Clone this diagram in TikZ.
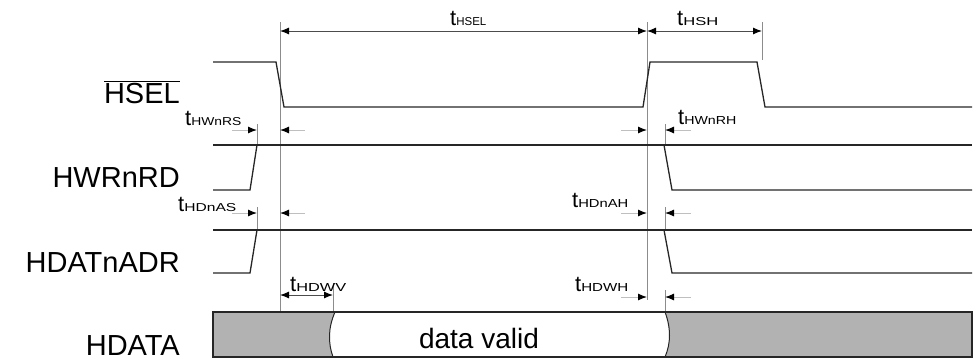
\documentclass[tikz,border=0pt]{standalone}
\usepackage{fontspec}
\usepackage{graphicx}
\setmainfont{Liberation Sans}
\usetikzlibrary{arrows.meta}
\definecolor{fillgray}{HTML}{B2B2B2}
\newcommand\tlab[2]{{\fontsize{22}{22}\selectfont t}\resizebox{#1pt}{8pt}{\fontsize{12}{12}\selectfont #2}}
\begin{document}
\begin{tikzpicture}[x=1pt,y=-1pt,
  sig/.style={line width=1.3pt, black!85},
  vref/.style={line width=1pt, black!45},
  dimline/.style={line width=1pt, black!70, {Latex[length=9pt,width=7pt,color=black]}-{Latex[length=9pt,width=7pt,color=black]}},
  tipin/.style={line width=1pt, black!25, -{Latex[length=9pt,width=7pt,color=black]}},
  siglabel/.style={anchor=base east, font=\fontsize{29}{29}\selectfont, inner sep=0pt},
  tlabel/.style={anchor=base west, inner sep=0pt},
]
\useasboundingbox (0,0) rectangle (977,360);

% reference coordinates
\coordinate (v1t) at (280,22);  \coordinate (v1b) at (280,312);
\coordinate (v2t) at (647,22);  \coordinate (v2b) at (647,300);
\coordinate (v3t) at (762,22);  \coordinate (v3b) at (762,60);
\coordinate (v6t) at (333,283); \coordinate (v6b) at (333,312);

% vertical reference lines
\draw[vref] (v1t) -- (v1b);
\draw[vref] (v2t) -- (v2b);
\draw[vref] (v3t) -- (v3b);
\draw[vref] (v6t) -- (v6b);
\draw[vref] (257,124) -- (257,145);
\draw[vref] (257,207) -- (257,230);
\draw[vref] (665,124) -- (665,145);
\draw[vref] (665,207) -- (665,230);
\draw[vref] (665,290) -- (665,312);

% top dimension arrows
\coordinate (a1) at (280,31); \coordinate (a2) at (647,31); \coordinate (a3) at (762,31);
\draw[dimline] (a1) -- (a2);
\draw[dimline] (a2) -- (a3);
\node[tlabel] (lhsel) at (450,25) {\tlab{30}{HSEL}};
\node[tlabel] (lhsh) at (677,25) {\tlab{35}{HSH}};

% signal names
\node[siglabel] (nhsel) at (180,103) {$\overline{\mbox{HSEL}}$};
\node[siglabel] (nhwr) at (180,187) {HWRnRD};
\node[siglabel] (nhdat) at (180,272) {HDATnADR};
\node[siglabel] (nhdata) at (180,355) {HDATA};

% HSEL
\draw[sig] (213,62) -- (276,62) -- (284,107) -- (643,107) -- (650,62) -- (757,62) -- (765,107) -- (972,107);

% HWRnRD
\draw[sig] (213,145) -- (972,145);
\draw[sig] (213,190) -- (250,190) -- (257,145);
\draw[sig] (664,145) -- (672,190) -- (972,190);

% HDATnADR
\draw[sig] (213,230) -- (972,230);
\draw[sig] (213,273) -- (250,273) -- (257,230);
\draw[sig] (664,230) -- (672,273) -- (972,273);

% setup / hold arrows row HWRnRD
\coordinate (s1a) at (232,130); \coordinate (s1b) at (257,130);
\coordinate (s1c) at (305,130); \coordinate (s1d) at (280,130);
\draw[tipin] (s1a) -- (s1b);
\draw[tipin] (s1c) -- (s1d);
\coordinate (h1a) at (621,130); \coordinate (h1b) at (647,130);
\coordinate (h1c) at (691,130); \coordinate (h1d) at (665,130);
\draw[tipin] (h1a) -- (h1b);
\draw[tipin] (h1c) -- (h1d);
\node[tlabel] (lhwnrs) at (185,125) {\tlab{50}{HWnRS}};
\node[tlabel] (lhwnrh) at (678,124) {\tlab{52}{HWnRH}};

% setup / hold arrows row HDATnADR
\coordinate (s2a) at (232,213); \coordinate (s2b) at (257,213);
\coordinate (s2c) at (305,213); \coordinate (s2d) at (280,213);
\draw[tipin] (s2a) -- (s2b);
\draw[tipin] (s2c) -- (s2d);
\coordinate (h2a) at (621,213); \coordinate (h2b) at (647,213);
\coordinate (h2c) at (691,213); \coordinate (h2d) at (665,213);
\draw[tipin] (h2a) -- (h2b);
\draw[tipin] (h2c) -- (h2d);
\node[tlabel] (lhdnas) at (178,211) {\tlab{52}{HDnAS}};
\node[tlabel] (lhdnah) at (572,207) {\tlab{50}{HDnAH}};

% HDATA row arrows
\coordinate (w1) at (280,295); \coordinate (w2) at (333,295);
\draw[dimline] (w1) -- (w2);
\node[tlabel] (lhdwv) at (290,291) {\tlab{50}{HDWV}};
\coordinate (h3a) at (621,297); \coordinate (h3b) at (647,297);
\coordinate (h3c) at (691,297); \coordinate (h3d) at (665,297);
\draw[tipin] (h3a) -- (h3b);
\draw[tipin] (h3c) -- (h3d);
\node[tlabel] (lhdwh) at (575,291) {\tlab{47}{HDWH}};

% HDATA bus
\fill[fillgray] (213,312) -- (335,312) .. controls (328,328) and (328,343) .. (333,357) -- (213,357) -- cycle;
\fill[fillgray] (665,312) .. controls (671,328) and (671,343) .. (665,357) -- (972,357) -- (972,312) -- cycle;
\draw[sig] (213,312) rectangle (972,357);
\draw[sig, line width=1pt] (335,312) .. controls (328,328) and (328,343) .. (333,357);
\draw[sig, line width=1pt] (665,312) .. controls (671,328) and (671,343) .. (665,357);
\node[anchor=base, inner sep=0pt, font=\fontsize{28}{28}\selectfont] (dv) at (479,348) {data valid};

\end{tikzpicture}
\end{document}
